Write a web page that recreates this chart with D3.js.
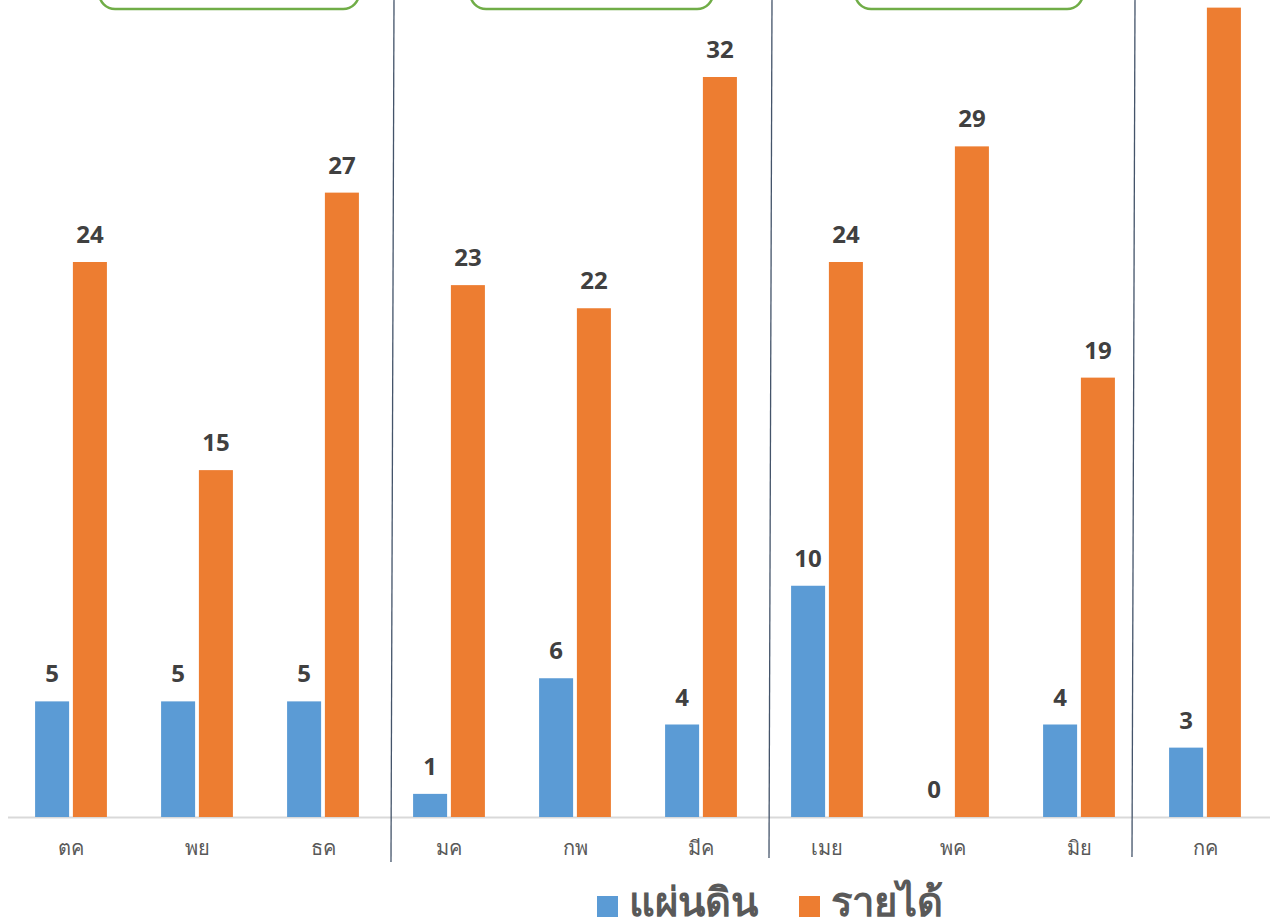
<!DOCTYPE html>
<html>
<head>
<meta charset="utf-8">
<script src="https://cdn.jsdelivr.net/npm/d3@7"></script>
<style>
  body { margin: 0; background: #fff; }
  svg { display: block; }
  text { font-family: Tahoma, "Noto Sans", "DejaVu Sans", sans-serif; }
</style>
</head>
<body>
<svg width="1270" height="921"></svg>
<script>
const BLUE = "#5B9BD5";
const ORANGE = "#ED7D31";
const GREEN = "#70AD47";
const NAVY = "#44546A";

// data
const months = ["ตค", "พย", "ธค", "มค", "กพ", "มีค", "เมย", "พค", "มิย", "กค"];
const land = [5, 5, 5, 1, 6, 4, 10, 0, 4, 3];
const income = [24, 15, 27, 23, 22, 32, 24, 29, 19, 35];
const seriesNames = ["แผ่นดิน", "รายได้"];
const seriesColors = [BLUE, ORANGE];

// group dividers sit between these months
const dividerAfter = ["ธค", "มีค", "มิย"];

var svg = d3.select("svg");

var x0 = d3.scaleBand()
    .domain(months)
    .range([8, 1268])
    .paddingInner(0.43)
    .paddingOuter(0.215);

var x1 = d3.scaleBand()
    .domain(seriesNames)
    .range([0, x0.bandwidth()])
    .paddingInner(0.1);

var y = d3.scaleLinear()
    .domain([0, 32])
    .range([817, 77]);

var rows = months.map(function (m, i) {
    return { month: m, values: [land[i], income[i]] };
});

// green rounded boxes at the top (cut off by the frame)
var boxes = [
    { from: "ตค", to: "ธค", a: 64, b: 72 },
    { from: "มค", to: "มีค", a: 57, b: 48 },
    { from: "เมย", to: "มิย", a: 64, b: 40 }
];
svg.append("g").selectAll("rect")
    .data(boxes)
    .enter().append("rect")
    .attr("x", function (d) { return x0(d.from) + d.a; })
    .attr("width", function (d) { return (x0(d.to) + d.b) - (x0(d.from) + d.a); })
    .attr("y", -40)
    .attr("height", 49)
    .attr("rx", 16)
    .attr("fill", "none")
    .attr("stroke", GREEN)
    .attr("stroke-width", 2.5);

// baseline
svg.append("line")
    .attr("x1", 8).attr("x2", 1270)
    .attr("y1", y(0) + 0.5).attr("y2", y(0) + 0.5)
    .attr("stroke", "#D9D9D9")
    .attr("stroke-width", 2);

// bars
var groups = svg.append("g").selectAll("g")
    .data(rows)
    .enter().append("g")
    .attr("transform", function (d) { return "translate(" + x0(d.month) + ",0)"; });

groups.selectAll("rect")
    .data(function (d) { return d.values.map(function (v, i) { return { v: v, s: i }; }); })
    .enter().append("rect")
    .attr("x", function (d) { return x1(seriesNames[d.s]); })
    .attr("width", x1.bandwidth())
    .attr("y", function (d) { return y(d.v); })
    .attr("height", function (d) { return y(0) - y(d.v); })
    .attr("fill", function (d) { return seriesColors[d.s]; });

groups.selectAll("text")
    .data(function (d) { return d.values.map(function (v, i) { return { v: v, s: i }; }); })
    .enter().append("text")
    .attr("x", function (d) { return x1(seriesNames[d.s]) + x1.bandwidth() / 2; })
    .attr("y", function (d) { return y(d.v) - 19; })
    .attr("text-anchor", "middle")
    .attr("font-size", 24)
    .attr("font-weight", "bold")
    .attr("fill", "#404040")
    .text(function (d) { return d.v; });

// category labels
svg.append("g").selectAll("text")
    .data(months)
    .enter().append("text")
    .attr("x", function (d) { return x0(d) + x0.bandwidth() / 2; })
    .attr("y", 855)
    .attr("text-anchor", "middle")
    .attr("font-size", 20)
    .attr("fill", "#595959")
    .text(function (d) { return d; });

// dividers between quarters (hand-drawn in the original, slightly slanted)
var divShift = [6, 6, -9];
var divEnd = [862, 858, 857];
svg.append("g").selectAll("line")
    .data(dividerAfter)
    .enter().append("line")
    .attr("x1", function (d, i) { return x0(d) + x0.bandwidth() + (x0.step() - x0.bandwidth()) / 2 + divShift[i] + 2; })
    .attr("x2", function (d, i) { return x0(d) + x0.bandwidth() + (x0.step() - x0.bandwidth()) / 2 + divShift[i] - 1; })
    .attr("y1", 0)
    .attr("y2", function (d, i) { return divEnd[i]; })
    .attr("stroke", NAVY)
    .attr("stroke-width", 1.3);

// legend
var legend = svg.append("g").attr("transform", "translate(597,894)");
var lx = [0, 202];
seriesNames.forEach(function (name, i) {
    legend.append("rect")
        .attr("x", lx[i]).attr("y", 2)
        .attr("width", 21).attr("height", 21)
        .attr("fill", seriesColors[i]);
    legend.append("text")
        .attr("x", lx[i] + 32).attr("y", 22)
        .attr("font-size", 40)
        .attr("font-weight", "bold")
        .attr("fill", "#595959")
        .text(name);
});
</script>
</body>
</html>
